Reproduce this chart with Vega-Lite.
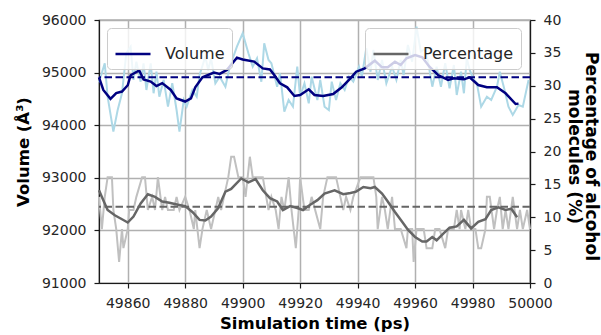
{
  "$schema": "https://vega.github.io/schema/vega-lite/v6.json",
  "width": 431,
  "height": 263,
  "autosize": {"type": "none"},
  "padding": {"left": 99, "top": 20, "right": 71, "bottom": 52},
  "background": "white",
  "config": {
    "font": "DejaVu Sans",
    "view": {"stroke": "#1a1a1a", "strokeWidth": 1.2},
    "axis": {
      "labelFont": "DejaVu Sans",
      "labelFontSize": 14,
      "labelColor": "#262626",
      "titleFont": "DejaVu Sans",
      "titleFontSize": 16.5,
      "titleFontWeight": "bold",
      "titleColor": "#000000",
      "tickColor": "#1a1a1a",
      "tickSize": 5,
      "tickWidth": 1.2,
      "domainColor": "#1a1a1a",
      "domainWidth": 1.2,
      "gridColor": "#b0b0b0",
      "gridWidth": 1.5,
      "labelPadding": 8
    },
    "legend": {
      "labelFont": "DejaVu Sans",
      "labelFontSize": 16,
      "labelColor": "#262626",
      "symbolType": "stroke",
      "symbolSize": 1225,
      "symbolStrokeWidth": 2.5,
      "fillColor": "rgba(255,255,255,0.8)",
      "strokeColor": "#cccccc",
      "cornerRadius": 4,
      "padding": 7,
      "labelOffset": 13
    }
  },
  "datasets": {
    "rawVol": [
      {"t": 49850, "v": 94816}, {"t": 49852, "v": 95177}, {"t": 49853, "v": 94542}, {"t": 49855, "v": 93877},
      {"t": 49856.5, "v": 94289}, {"t": 49858, "v": 94607}, {"t": 49859.5, "v": 95367}, {"t": 49861, "v": 95493},
      {"t": 49862, "v": 94860}, {"t": 49863, "v": 95208}, {"t": 49864.5, "v": 94827}, {"t": 49865.5, "v": 95177},
      {"t": 49866.5, "v": 94669}, {"t": 49868, "v": 95177}, {"t": 49869, "v": 94607}, {"t": 49870, "v": 95017},
      {"t": 49871, "v": 94542}, {"t": 49872.5, "v": 94860}, {"t": 49874, "v": 94352}, {"t": 49875.5, "v": 94797},
      {"t": 49877, "v": 94289}, {"t": 49878, "v": 93877}, {"t": 49879.5, "v": 94479}, {"t": 49880.5, "v": 94352},
      {"t": 49882.5, "v": 94669}, {"t": 49884, "v": 94542}, {"t": 49885, "v": 94954}, {"t": 49887, "v": 95303},
      {"t": 49888, "v": 95050}, {"t": 49889, "v": 95272}, {"t": 49890.5, "v": 94797}, {"t": 49892, "v": 94922},
      {"t": 49894, "v": 94732}, {"t": 49895.5, "v": 95113}, {"t": 49898, "v": 95493}, {"t": 49900, "v": 95747},
      {"t": 49902, "v": 95367}, {"t": 49903.5, "v": 95113}, {"t": 49905, "v": 95272}, {"t": 49906.5, "v": 94827},
      {"t": 49907.5, "v": 95557}, {"t": 49909, "v": 95240}, {"t": 49910, "v": 95177}, {"t": 49912, "v": 94732},
      {"t": 49913, "v": 94987}, {"t": 49914.5, "v": 94257}, {"t": 49916, "v": 94479}, {"t": 49917.5, "v": 94352},
      {"t": 49919, "v": 95113}, {"t": 49920, "v": 94542}, {"t": 49921.5, "v": 94797}, {"t": 49923, "v": 94416},
      {"t": 49924, "v": 94922}, {"t": 49926, "v": 94479}, {"t": 49927, "v": 94860}, {"t": 49928.5, "v": 94352},
      {"t": 49930, "v": 94289}, {"t": 49931, "v": 94827}, {"t": 49932.5, "v": 94479}, {"t": 49934, "v": 94797},
      {"t": 49935.5, "v": 94669}, {"t": 49937, "v": 94922}, {"t": 49938.5, "v": 94827}, {"t": 49940.5, "v": 95113},
      {"t": 49941.5, "v": 94922}, {"t": 49943, "v": 95462}, {"t": 49944.5, "v": 95017}, {"t": 49945.5, "v": 95430},
      {"t": 49947, "v": 94860}, {"t": 49948.5, "v": 95240}, {"t": 49950, "v": 94797}, {"t": 49952, "v": 95113},
      {"t": 49953.5, "v": 94860}, {"t": 49955, "v": 95240}, {"t": 49956, "v": 94954}, {"t": 49957.5, "v": 95525},
      {"t": 49959, "v": 95208}, {"t": 49960.5, "v": 95873}, {"t": 49962, "v": 95400}, {"t": 49963.5, "v": 95450},
      {"t": 49964.5, "v": 95208}, {"t": 49966, "v": 94732}, {"t": 49967.5, "v": 95113}, {"t": 49969, "v": 94732},
      {"t": 49970.5, "v": 95177}, {"t": 49972, "v": 94701}, {"t": 49973.5, "v": 95145}, {"t": 49974.5, "v": 94574},
      {"t": 49976, "v": 95017}, {"t": 49977, "v": 94607}, {"t": 49978, "v": 95272}, {"t": 49979, "v": 95050},
      {"t": 49980.5, "v": 94860}, {"t": 49981.5, "v": 94797}, {"t": 49983, "v": 94352}, {"t": 49985, "v": 94542},
      {"t": 49986.5, "v": 94479}, {"t": 49988.5, "v": 94732}, {"t": 49989.5, "v": 95017}, {"t": 49991, "v": 94701},
      {"t": 49992.5, "v": 94352}, {"t": 49994, "v": 94194}, {"t": 49996, "v": 94384}, {"t": 49997.5, "v": 94352},
      {"t": 49999.5, "v": 94860}
    ],
    "smoothVol": [
      {"t": 49850, "v": 94910}, {"t": 49851.5, "v": 94670}, {"t": 49854, "v": 94500}, {"t": 49856, "v": 94610},
      {"t": 49858, "v": 94640}, {"t": 49860, "v": 94760}, {"t": 49861, "v": 94950}, {"t": 49864, "v": 95040},
      {"t": 49865.5, "v": 94870}, {"t": 49868, "v": 94830}, {"t": 49870, "v": 94745}, {"t": 49872, "v": 94800},
      {"t": 49875, "v": 94670}, {"t": 49877, "v": 94510}, {"t": 49880, "v": 94450}, {"t": 49882, "v": 94510},
      {"t": 49883.5, "v": 94720}, {"t": 49886, "v": 94910}, {"t": 49890, "v": 95000}, {"t": 49892, "v": 94975},
      {"t": 49894.5, "v": 95050}, {"t": 49898, "v": 95285}, {"t": 49900, "v": 95250}, {"t": 49904, "v": 95210},
      {"t": 49907, "v": 95080}, {"t": 49909.5, "v": 95060}, {"t": 49911, "v": 94954}, {"t": 49913, "v": 94796},
      {"t": 49915.5, "v": 94720}, {"t": 49918, "v": 94555}, {"t": 49920, "v": 94574}, {"t": 49923, "v": 94682},
      {"t": 49925, "v": 94574}, {"t": 49928, "v": 94555}, {"t": 49931.5, "v": 94593}, {"t": 49934.5, "v": 94720},
      {"t": 49937.5, "v": 94891}, {"t": 49939.5, "v": 95017}, {"t": 49942.5, "v": 95081}, {"t": 49946, "v": 95227},
      {"t": 49948.5, "v": 95100}, {"t": 49950.5, "v": 95100}, {"t": 49953, "v": 95208}, {"t": 49955, "v": 95145},
      {"t": 49957, "v": 95272}, {"t": 49960, "v": 95335}, {"t": 49962.5, "v": 95290}, {"t": 49965, "v": 95113},
      {"t": 49968, "v": 94954}, {"t": 49971.5, "v": 94860}, {"t": 49973.5, "v": 94891}, {"t": 49977, "v": 94872},
      {"t": 49979, "v": 94910}, {"t": 49982, "v": 94764}, {"t": 49985, "v": 94720}, {"t": 49988.5, "v": 94720},
      {"t": 49991.5, "v": 94607}, {"t": 49995, "v": 94403}, {"t": 49996, "v": 94410}
    ],
    "meanVol": [{"v": 94910}],
    "rawPct": [
      {"t": 49850, "p": 13.1}, {"t": 49851, "p": 8.2}, {"t": 49852, "p": 13.1}, {"t": 49853, "p": 16.1},
      {"t": 49854.5, "p": 16.1}, {"t": 49855, "p": 11.1}, {"t": 49856, "p": 8.2}, {"t": 49857, "p": 3.2},
      {"t": 49858, "p": 8.2}, {"t": 49858.5, "p": 5.3}, {"t": 49860, "p": 8.2}, {"t": 49860.5, "p": 11.1},
      {"t": 49862, "p": 11.1}, {"t": 49863, "p": 13.1}, {"t": 49865, "p": 16.1}, {"t": 49866, "p": 16.1},
      {"t": 49867, "p": 11.1}, {"t": 49868.5, "p": 13.1}, {"t": 49869.5, "p": 11.1}, {"t": 49870.5, "p": 16.1},
      {"t": 49872, "p": 11.1}, {"t": 49873, "p": 13.1}, {"t": 49874, "p": 11.1}, {"t": 49876, "p": 11.1},
      {"t": 49877, "p": 13.1}, {"t": 49878, "p": 11.1}, {"t": 49880, "p": 13.1}, {"t": 49881.5, "p": 11.1},
      {"t": 49883, "p": 8.2}, {"t": 49883.5, "p": 11.1}, {"t": 49885, "p": 5.3}, {"t": 49886, "p": 8.2},
      {"t": 49887.5, "p": 11.1}, {"t": 49889, "p": 8.2}, {"t": 49890.5, "p": 11.1}, {"t": 49891.5, "p": 13.1},
      {"t": 49892.5, "p": 11.1}, {"t": 49893.5, "p": 13.1}, {"t": 49895, "p": 16.1}, {"t": 49896, "p": 19.2},
      {"t": 49897, "p": 19.2}, {"t": 49898.5, "p": 16.1}, {"t": 49900, "p": 16.1}, {"t": 49901, "p": 13.1},
      {"t": 49902.5, "p": 19.2}, {"t": 49903.5, "p": 16.1}, {"t": 49905.5, "p": 16.1}, {"t": 49907, "p": 16.1},
      {"t": 49909, "p": 11.1}, {"t": 49910, "p": 13.1}, {"t": 49911.5, "p": 11.1}, {"t": 49912.5, "p": 8.2},
      {"t": 49913.5, "p": 13.1}, {"t": 49914.5, "p": 11.1}, {"t": 49916, "p": 16.1}, {"t": 49917, "p": 11.1},
      {"t": 49918.5, "p": 5.3}, {"t": 49919.5, "p": 11.1}, {"t": 49920, "p": 16.1}, {"t": 49921.5, "p": 11.1},
      {"t": 49923, "p": 11.1}, {"t": 49924, "p": 13.1}, {"t": 49927, "p": 8.2}, {"t": 49928, "p": 13.1},
      {"t": 49929.5, "p": 16.1}, {"t": 49930.5, "p": 16.1}, {"t": 49932.5, "p": 16.1}, {"t": 49934, "p": 13.1},
      {"t": 49935, "p": 11.1}, {"t": 49936, "p": 13.1}, {"t": 49937.5, "p": 11.1}, {"t": 49938.5, "p": 13.1},
      {"t": 49941, "p": 16.1}, {"t": 49943, "p": 16.1}, {"t": 49945.5, "p": 16.1}, {"t": 49946.5, "p": 13.1},
      {"t": 49947, "p": 8.2}, {"t": 49948.5, "p": 13.1}, {"t": 49949.5, "p": 11.1}, {"t": 49950.5, "p": 8.2},
      {"t": 49952, "p": 13.1}, {"t": 49953, "p": 8.2}, {"t": 49955, "p": 8.2}, {"t": 49957, "p": 5.3},
      {"t": 49957.5, "p": 8.2}, {"t": 49959, "p": 8.2}, {"t": 49959.5, "p": 3.2}, {"t": 49960.5, "p": 8.2},
      {"t": 49961.5, "p": 8.2}, {"t": 49963, "p": 8.2}, {"t": 49964, "p": 5.3}, {"t": 49966, "p": 5.3},
      {"t": 49967, "p": 8.2}, {"t": 49968.5, "p": 8.2}, {"t": 49970.5, "p": 5.3}, {"t": 49971.5, "p": 8.2},
      {"t": 49973.5, "p": 8.2}, {"t": 49974.5, "p": 11.1}, {"t": 49975.5, "p": 8.2}, {"t": 49976, "p": 11.1},
      {"t": 49977.5, "p": 8.2}, {"t": 49978.5, "p": 11.1}, {"t": 49979.5, "p": 8.2}, {"t": 49981, "p": 8.2},
      {"t": 49982, "p": 5.3}, {"t": 49983, "p": 5.3}, {"t": 49984.5, "p": 8.2}, {"t": 49985, "p": 13.1},
      {"t": 49986, "p": 13.1}, {"t": 49987.5, "p": 8.2}, {"t": 49988.5, "p": 11.1}, {"t": 49989.5, "p": 13.1},
      {"t": 49990.5, "p": 8.2}, {"t": 49991.5, "p": 11.1}, {"t": 49992.5, "p": 8.2}, {"t": 49994, "p": 13.1},
      {"t": 49995.5, "p": 8.2}, {"t": 49996.5, "p": 11.1}, {"t": 49997.5, "p": 8.2}, {"t": 49999, "p": 11.1},
      {"t": 50000, "p": 8.2}
    ],
    "smoothPct": [
      {"t": 49850, "p": 14.1}, {"t": 49851.5, "p": 12.6}, {"t": 49853, "p": 11.1}, {"t": 49855.5, "p": 10.3},
      {"t": 49858, "p": 9.7}, {"t": 49860, "p": 9.2}, {"t": 49862, "p": 10.1}, {"t": 49864.5, "p": 12.1},
      {"t": 49867, "p": 13.5}, {"t": 49869.5, "p": 13.1}, {"t": 49872, "p": 12.4}, {"t": 49874.5, "p": 12.2},
      {"t": 49877.5, "p": 11.9}, {"t": 49880, "p": 11.7}, {"t": 49882.5, "p": 10.8}, {"t": 49885, "p": 9.6},
      {"t": 49887, "p": 9.5}, {"t": 49889, "p": 10.1}, {"t": 49891.5, "p": 11.4}, {"t": 49894, "p": 13.9},
      {"t": 49896, "p": 14.3}, {"t": 49899.5, "p": 15.9}, {"t": 49902, "p": 15.3}, {"t": 49904.5, "p": 15.8},
      {"t": 49907, "p": 14.1}, {"t": 49909.5, "p": 12.9}, {"t": 49912, "p": 12.4}, {"t": 49914, "p": 11.1},
      {"t": 49916.5, "p": 11.7}, {"t": 49919, "p": 11.4}, {"t": 49921, "p": 11.1}, {"t": 49923.5, "p": 11.9},
      {"t": 49926, "p": 12.6}, {"t": 49928.5, "p": 13.6}, {"t": 49932, "p": 14.1}, {"t": 49935, "p": 13.5},
      {"t": 49937.5, "p": 13.7}, {"t": 49939.5, "p": 13.9}, {"t": 49942, "p": 14.6}, {"t": 49944.5, "p": 14.4},
      {"t": 49946, "p": 14.6}, {"t": 49948.5, "p": 13.6}, {"t": 49950.5, "p": 12.4}, {"t": 49953, "p": 10.8},
      {"t": 49955.5, "p": 9.3}, {"t": 49957.5, "p": 8.1}, {"t": 49960, "p": 7.0}, {"t": 49962.5, "p": 6.3},
      {"t": 49964, "p": 6.3}, {"t": 49966, "p": 7.0}, {"t": 49967.5, "p": 6.5}, {"t": 49970, "p": 7.6},
      {"t": 49972, "p": 8.4}, {"t": 49974.5, "p": 8.6}, {"t": 49977, "p": 9.6}, {"t": 49979.5, "p": 8.3},
      {"t": 49982, "p": 9.3}, {"t": 49984.5, "p": 9.7}, {"t": 49986.5, "p": 11.1}, {"t": 49989, "p": 11.5},
      {"t": 49991.5, "p": 11.1}, {"t": 49993.5, "p": 11.3}, {"t": 49995.5, "p": 10.0}
    ],
    "meanPct": [{"p": 11.6}]
  },
  "layer": [
    {
      "encoding": {
        "y": {
          "field": "v", "type": "quantitative",
          "scale": {"domain": [91000, 96000], "nice": false, "zero": false},
          "axis": {
            "orient": "left",
            "values": [91000, 92000, 93000, 94000, 95000, 96000],
            "format": "d",
            "grid": true,
            "title": "Volume (Å³)",
            "titlePadding": 10
          }
        }
      },
      "layer": [
        {
          "data": {"name": "rawVol"},
          "mark": {"type": "line", "color": "#add8e6", "strokeWidth": 2},
          "encoding": {
            "x": {
              "field": "t", "type": "quantitative",
              "scale": {"domain": [49850, 50000], "nice": false, "zero": false},
              "axis": {
                "values": [49860, 49880, 49900, 49920, 49940, 49960, 49980, 50000],
                "format": "d",
                "grid": true,
                "labelFlush": false,
                "title": "Simulation time (ps)",
                "titlePadding": 5
              }
            }
          }
        },
        {
          "data": {"name": "smoothVol"},
          "mark": {"type": "line", "strokeWidth": 2.5},
          "encoding": {
            "x": {"field": "t", "type": "quantitative"},
            "color": {
              "datum": "Volume",
              "scale": {"domain": ["Volume"], "range": ["#000080"]},
              "legend": {"orient": "none", "legendX": 8, "legendY": 8, "title": null}
            }
          }
        },
        {
          "data": {"name": "meanVol"},
          "mark": {"type": "rule", "color": "#000080", "strokeWidth": 2, "strokeDash": [7.5, 3.5]},
          "encoding": {}
        }
      ]
    },
    {
      "encoding": {
        "y": {
          "field": "p", "type": "quantitative",
          "scale": {"domain": [0, 40], "nice": false},
          "axis": {
            "orient": "right",
            "values": [0, 5, 10, 15, 20, 25, 30, 35, 40],
            "grid": false,
            "title": ["Percentage of alcohol", "molecules (%)"],
            "titleFontSize": 17,
            "titleLineHeight": 17,
            "titlePadding": 4,
            "titleY": 136
          }
        }
      },
      "layer": [
        {
          "data": {"name": "rawPct"},
          "mark": {"type": "line", "color": "#c0c0c0", "strokeWidth": 2},
          "encoding": {"x": {"field": "t", "type": "quantitative"}}
        },
        {
          "data": {"name": "smoothPct"},
          "mark": {"type": "line", "strokeWidth": 2.5},
          "encoding": {
            "x": {"field": "t", "type": "quantitative"},
            "color": {
              "datum": "Percentage",
              "scale": {"domain": ["Percentage"], "range": ["#666666"]},
              "legend": {"orient": "none", "legendX": 266, "legendY": 8, "title": null}
            }
          }
        },
        {
          "data": {"name": "meanPct"},
          "mark": {"type": "rule", "color": "#666666", "strokeWidth": 2, "strokeDash": [7.5, 3.5]},
          "encoding": {}
        }
      ]
    }
  ],
  "resolve": {"scale": {"y": "independent", "color": "independent"}}
}
